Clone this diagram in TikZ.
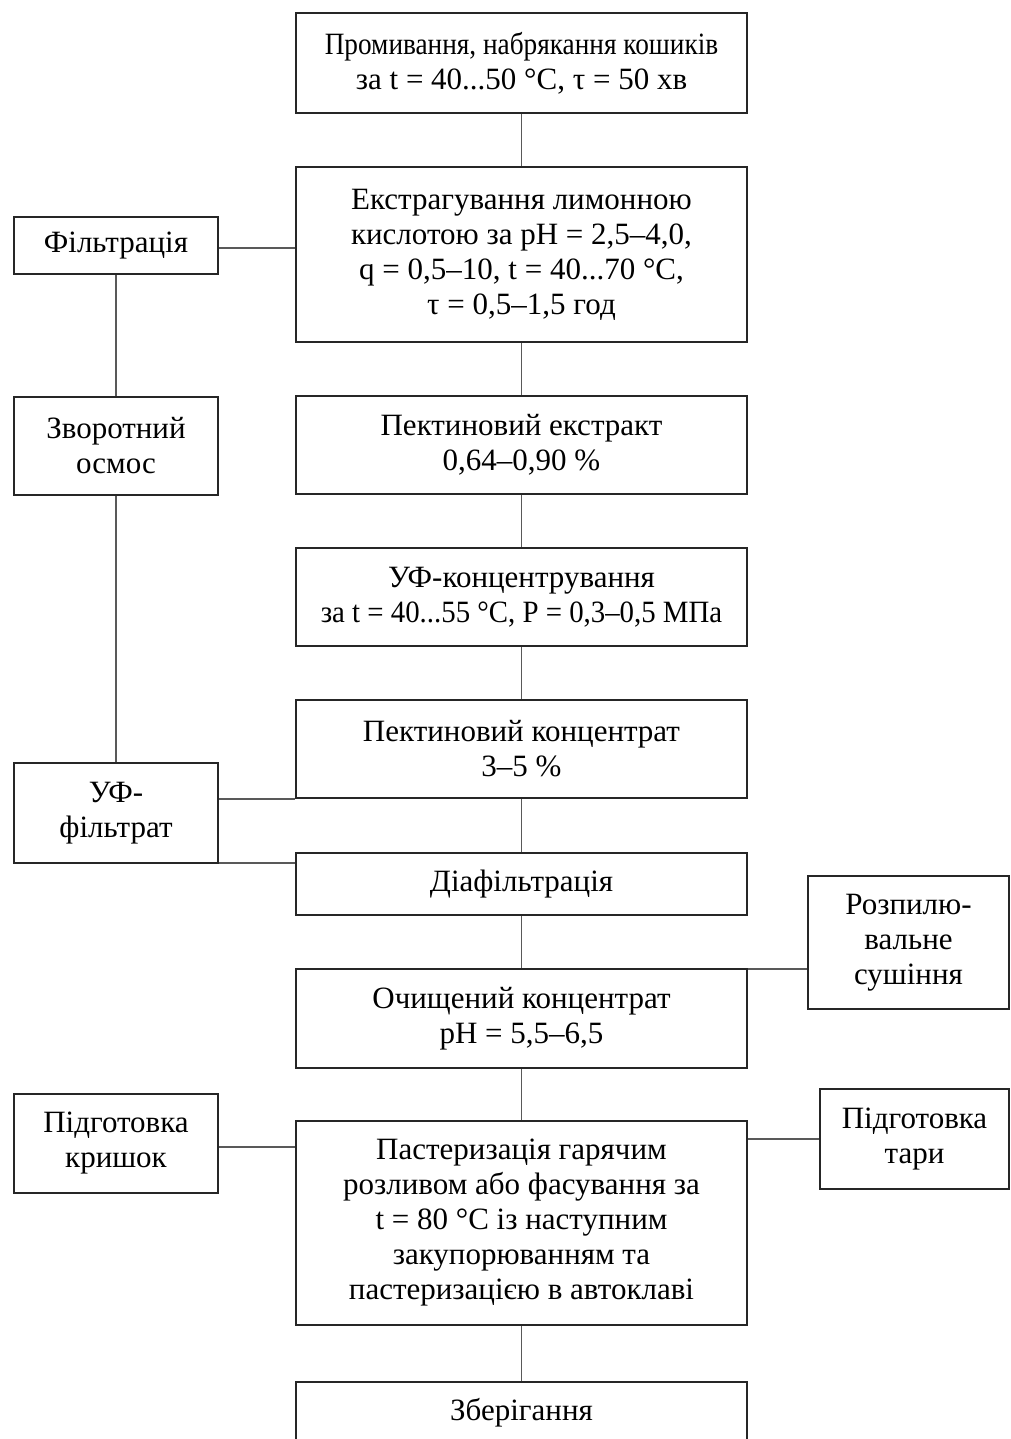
\documentclass[tikz,border=0pt]{standalone}
\usepackage{fontspec}
\setmainfont{Liberation Serif}
\begin{document}
\begin{tikzpicture}[x=0.5pt,y=-0.5pt,
  box/.style={draw=black!85, line width=0.9pt, fill=white, align=center, inner sep=0pt,
    font=\fontsize{15.5}{17.5}\selectfont},
  mainbox/.style={box, minimum width=225.5pt},
  sidebox/.style={box, minimum width=102pt},
  link/.style={draw=black!65, line width=0.8pt}]
\clip (0,0) rectangle (1011,1439);
\fill[white] (0,0) rectangle (1011,1439);
% main column
\node[mainbox, minimum height=50pt] (b1) at (521.5,63) {\scalebox{0.88}[1]{Промивання, набрякання кошиків}\\за t = 40...50 °C, τ = 50 хв};
\node[mainbox, minimum height=87.5pt] (b2) at (521.5,254.5) {Екстрагування лимонною\\кислотою за pH = 2,5–4,0,\\q = 0,5–10, t = 40...70 °C,\\τ = 0,5–1,5 год};
\node[mainbox, minimum height=49pt] (b3) at (521.5,445) {Пектиновий екстракт\\0,64–0,90 \%};
\node[mainbox, minimum height=49pt] (b4) at (521.5,597) {УФ-концентрування\\\scalebox{0.93}[1]{за t = 40...55 °C, P = 0,3–0,5 МПа}};
\node[mainbox, minimum height=49pt] (b5) at (521.5,749) {Пектиновий концентрат\\3–5 \%};
\node[mainbox, minimum height=31pt] (b6) at (521.5,884) {Діафільтрація};
\node[mainbox, minimum height=49.5pt] (b7) at (521.5,1018.5) {Очищений концентрат\\pH = 5,5–6,5};
\node[mainbox, minimum height=102pt] (b8) at (521.5,1223) {Пастеризація гарячим\\розливом або фасування за\\t = 80 °C із наступним\\закупорюванням та\\пастеризацією в автоклаві};
\node[mainbox, minimum height=31pt] (b9) at (521.5,1413) {Зберігання};
% left column
\node[sidebox, minimum height=28.5pt] (f) at (116,245.5) {Фільтрація};
\node[sidebox, minimum height=49pt] (z) at (116,446) {Зворотний\\осмос};
\node[sidebox, minimum height=50pt] (u) at (116,813) {УФ-\\фільтрат};
\node[sidebox, minimum height=49.5pt] (k) at (116,1143.5) {Підготовка\\кришок};
% right column
\node[box, minimum width=100.5pt, minimum height=66.5pt] (r) at (908.5,942.5) {Розпилю-\\вальне\\сушіння};
\node[box, minimum width=94.5pt, minimum height=50pt] (t) at (914.5,1139) {Підготовка\\тари};
% connectors
\draw[link] (b1.south) -- (b2.north);
\draw[link] (b2.south) -- (b3.north);
\draw[link] (b3.south) -- (b4.north);
\draw[link] (b4.south) -- (b5.north);
\draw[link] (b5.south) -- (b6.north);
\draw[link] (b6.south) -- (b7.north);
\draw[link] (b7.south) -- (b8.north);
\draw[link] (b8.south) -- (b9.north);
\draw[link] ([yshift=-1.2pt]f.east) -- ([yshift=-1.2pt]f.east -| b2.west);
\draw[link] (f.south) -- (z.north);
\draw[link] (z.south) -- (u.north);
\draw[link] (u.east |- b5.south west) -- (b5.south west);
\draw[link] ([yshift=0.5pt]u.south east) -- ([yshift=0.5pt]u.south east -| b6.west);
\draw[link] ([yshift=-0.5pt]b7.north east) -- ([yshift=-0.5pt]b7.north east -| r.west);
\draw[link] ([yshift=-1.7pt]k.east) -- ([yshift=-1.7pt]k.east -| b8.west);
\draw[link] (t.west) -- (t.west -| b8.east);
\end{tikzpicture}
\end{document}
